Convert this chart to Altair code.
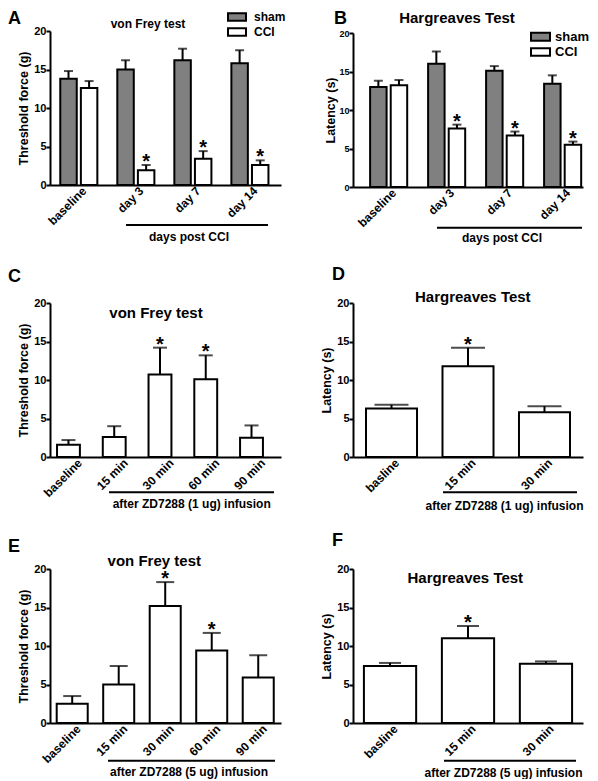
import altair as alt
import pandas as pd

FONT = "Liberation Sans"

# ---------------- data ----------------
a_times = ["baseline", "day 3", "day 7", "day 14"]
a_sham_mean = [13.8, 15.0, 16.2, 15.8]
a_sham_upper = [14.8, 16.2, 17.7, 17.5]
a_cci_mean = [12.6, 1.9, 3.4, 2.6]
a_cci_upper = [13.5, 2.6, 4.4, 3.2]
a_cci_star = ["", "*", "*", "*"]

b_times = ["baseline", "day 3", "day 7", "day 14"]
b_sham_mean = [13.0, 16.0, 15.1, 13.4]
b_sham_upper = [13.8, 17.6, 15.7, 14.5]
b_cci_mean = [13.2, 7.6, 6.7, 5.5]
b_cci_upper = [13.9, 8.1, 7.2, 5.9]
b_cci_star = ["", "*", "*", "*"]

c_times = ["baseline", "15 min", "30 min", "60 min", "90 min"]
c_mean = [1.6, 2.6, 10.7, 10.1, 2.5]
c_upper = [2.2, 4.0, 14.2, 13.2, 4.1]
c_star = ["", "", "*", "*", ""]

d_times = ["basline", "15 min", "30 min"]
d_mean = [6.3, 11.8, 5.8]
d_upper = [6.8, 14.2, 6.6]
d_star = ["", "*", ""]

e_times = ["baseline", "15 min", "30 min", "60 min", "90 min"]
e_mean = [2.5, 5.0, 15.2, 9.4, 5.9]
e_upper = [3.5, 7.4, 18.3, 11.7, 8.8]
e_star = ["", "", "*", "*", ""]

f_times = ["basline", "15 min", "30 min"]
f_mean = [7.4, 11.0, 7.7]
f_upper = [7.8, 12.6, 8.0]
f_star = ["", "*", ""]

groups = ["sham", "CCI"]
group_colors = ["#808080", "#ffffff"]


def grouped_frame(times, sm, su, cm, cu, cs):
    rows = []
    for i, t in enumerate(times):
        rows.append(dict(time=t, group="sham", mean=sm[i], upper=su[i], star=""))
        rows.append(dict(time=t, group="CCI", mean=cm[i], upper=cu[i], star=cs[i]))
    return pd.DataFrame(rows)


def single_frame(times, m, u, s):
    return pd.DataFrame(dict(time=times, mean=m, upper=u, star=s))


dummy = pd.DataFrame({"k": [0]})


def txt(s, x, y, size, align="center", baseline="middle"):
    return alt.Chart(dummy).mark_text(
        text=s, font=FONT, fontSize=size, fontWeight="bold", align=align,
        baseline=baseline, color="black"
    ).encode(x=alt.value(x), y=alt.value(y))


def hline(x1, x2, y):
    return alt.Chart(dummy).mark_rule(color="black", strokeWidth=2).encode(
        x=alt.value(x1), x2=alt.value(x2), y=alt.value(y))


def box(x1, x2, y1, y2, fill):
    return alt.Chart(dummy).mark_rect(fill=fill, stroke="black", strokeWidth=2).encode(
        x=alt.value(x1), x2=alt.value(x2), y=alt.value(y1), y2=alt.value(y2))


def panel(df, times, *, width, height, top, pi, po, align, cap, ytitle,
          ylab_size, title_pad, grouped, xlab_offset, decos):
    yscale = alt.Scale(domain=[0, 20], nice=False, zero=True, range=[height, top])
    xscale = alt.Scale(paddingInner=pi, paddingOuter=po, align=align)
    xaxis = alt.Axis(labelAngle=-45, labelAlign="right", labelBaseline="top",
                     ticks=False, domainColor="black", domainWidth=2,
                     labelFont=FONT, labelFontSize=12, labelFontWeight="bold",
                     labelColor="black", labelPadding=0, labelOffset=xlab_offset,
                     title=None)
    yaxis = alt.Axis(values=[0, 5, 10, 15, 20], grid=False, domainColor="black",
                     domainWidth=2, tickColor="black", tickWidth=2, tickSize=4,
                     labelFont=FONT, labelFontSize=ylab_size, labelFontWeight="bold",
                     labelColor="black", labelPadding=0, labelFlush=False,
                     titleFont=FONT, titleFontSize=12.5, titleFontWeight="bold",
                     titleColor="black", titlePadding=title_pad)
    X = alt.X("time:N", sort=times, scale=xscale, axis=xaxis, title=None)

    def Y(field):
        return alt.Y(f"{field}:Q", scale=yscale, axis=yaxis, title=ytitle)

    extra = {}
    if grouped:
        extra["xOffset"] = alt.XOffset("group:N", sort=groups,
                                       scale=alt.Scale(paddingInner=0.2, paddingOuter=0))
        fill = alt.Fill("group:N", scale=alt.Scale(domain=groups, range=group_colors),
                        legend=None)
    else:
        fill = alt.value("#ffffff")
    base = alt.Chart(df)
    bars = base.mark_bar(stroke="black", strokeWidth=2).encode(
        x=X, y=Y("mean"), fill=fill, **extra)
    err = base.mark_rule(color="black", strokeWidth=2).encode(
        x=X, y=Y("mean"), y2="upper:Q", **extra)
    caps = base.mark_tick(color="black", thickness=2, size=cap, orient="horizontal").encode(
        x=X, y=Y("upper"), **extra)
    stars = base.transform_filter("datum.star != ''").mark_text(
        font=FONT, fontSize=20, fontWeight="bold", baseline="alphabetic", dy=3,
        color="black").encode(x=X, y=Y("upper"), text="star:N", **extra)
    return alt.layer(bars, err, caps, stars, *decos).properties(width=width, height=height)


A = panel(grouped_frame(a_times, a_sham_mean, a_sham_upper, a_cci_mean, a_cci_upper, a_cci_star),
          a_times, width=231, height=154, top=0, pi=0.35, po=0.2, align=0.45, cap=9,
          ytitle="Threshold force (g)", ylab_size=11, title_pad=3, grouped=True, xlab_offset=2,
          decos=[txt("A", -42, -21, 18, align="left", baseline="top"),
                 txt("von Frey test", 98, -7, 12),
                 box(178, 196, -17.7, -10.3, "#808080"), box(178, 196, -2.7, 4.7, "#ffffff"),
                 txt("sham", 204, -13.7, 12, align="left"), txt("CCI", 204, 0.7, 12, align="left"),
                 hline(76, 218, 194), txt("days post CCI", 139, 206, 12)])

B = panel(grouped_frame(b_times, b_sham_mean, b_sham_upper, b_cci_mean, b_cci_upper, b_cci_star),
          b_times, width=230, height=156, top=2, pi=0.362, po=0.164, align=0.9, cap=9,
          ytitle="Latency (s)", ylab_size=9, title_pad=1, grouped=True, xlab_offset=2,
          decos=[txt("B", -19, -21, 18, align="left", baseline="top"),
                 txt("Hargreaves Test", 104, -12.7, 15),
                 box(178, 197, 1.7, 9.7, "#808080"), box(178, 197, 17.3, 24.7, "#ffffff"),
                 txt("sham", 202, 5.7, 13, align="left"), txt("CCI", 202, 21, 13, align="left"),
                 hline(84, 229, 196.7), txt("days post CCI", 149, 206.7, 12)])

C = panel(single_frame(c_times, c_mean, c_upper, c_star),
          c_times, width=231, height=198, top=44, pi=0.5, po=0.274, align=0.28, cap=14,
          ytitle="Threshold force (g)", ylab_size=11, title_pad=3, grouped=False, xlab_offset=8,
          decos=[txt("C", -42, 17.5, 18, align="left"),
                 txt("von Frey test", 106, 54, 15),
                 hline(59, 224, 233.3), txt("after ZD7288 (1 ug) infusion", 141.7, 245, 12)])

D = panel(single_frame(d_times, d_mean, d_upper, d_star),
          d_times, width=230, height=198, top=44, pi=0.333, po=0.17, align=0.5, cap=34,
          ytitle="Latency (s)", ylab_size=11, title_pad=3, grouped=False, xlab_offset=2,
          decos=[txt("D", -21, 16, 18, align="left"),
                 txt("Hargreaves Test", 119.8, 37.7, 15),
                 hline(90, 224, 233.3), txt("after ZD7288 (1 ug) infusion", 151.5, 246.7, 12)])

E = panel(single_frame(e_times, e_mean, e_upper, e_star),
          e_times, width=231, height=194, top=40, pi=0.333, po=0.15, align=0.48, cap=18,
          ytitle="Threshold force (g)", ylab_size=11, title_pad=3, grouped=False, xlab_offset=3,
          decos=[txt("E", -42, 17.5, 18, align="left"),
                 txt("von Frey test", 104.3, 32, 15),
                 hline(58, 225, 231.7), txt("after ZD7288 (5 ug) infusion", 139, 243, 12)])

F = panel(single_frame(f_times, f_mean, f_upper, f_star),
          f_times, width=230, height=194, top=40, pi=0.33, po=0.14, align=0.5, cap=22,
          ytitle="Latency (s)", ylab_size=11, title_pad=3, grouped=False, xlab_offset=2,
          decos=[txt("F", -21, 11.5, 18, align="left"),
                 txt("Hargreaves Test", 112.3, 48.5, 15),
                 hline(91, 223, 231.7), txt("after ZD7288 (5 ug) infusion", 150.5, 244, 12)])

chart = alt.concat(A, B, C, D, E, F, columns=2, spacing=72, bounds="flush",
                   align="each").properties(
    padding={"top": 2, "left": 0, "right": 0, "bottom": 0}
).configure_view(stroke=None)

chart.save("out.html", embed_options={"renderer": "svg", "actions": False})
